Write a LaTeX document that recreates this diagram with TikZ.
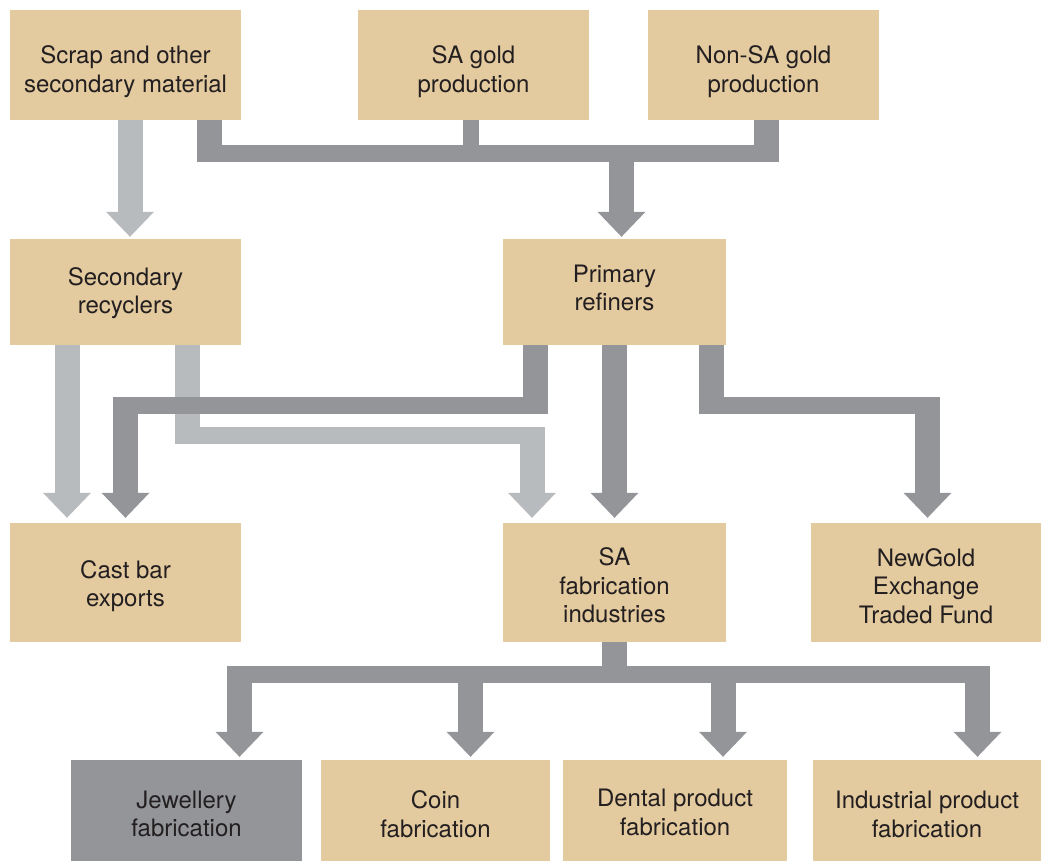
\documentclass[tikz,border=0pt]{standalone}
\usepackage{fontspec}
\setmainfont{TeX Gyre Heros}
\usepackage{tikz}
\usetikzlibrary{calc}
\definecolor{boxtan}{HTML}{E3CA9F}
\definecolor{flowdark}{HTML}{939598}
\definecolor{flowlight}{HTML}{B8BBBE}
\definecolor{ink}{HTML}{231F20}
\def\flowhead[#1](#2){\fill[#1] (#2) -- ++(-24,-25) -- ++(48,0) -- cycle;}
\tikzset{
	box/.style={fill=boxtan, text=ink, inner sep=0pt, align=center,
		minimum width=231pt, minimum height=110pt,
		text height=55pt, text depth=0pt,
		font=\fontsize{24}{28.5}\selectfont},
	dk/.style={draw=flowdark, line width=25pt},
	lt/.style={draw=flowlight, line width=25pt},
	across/.style={line width=17pt}
}

\begin{document}
\begin{tikzpicture}[x=1pt, y=-1pt]
			%%%%% START %%%%%
			\useasboundingbox (0,0) rectangle (1041,861);
			
			\node[box] (scrap) at (125.5,65) {Scrap and other\\secondary material};
			\node[box] (sagold) at (473.5,65) {SA gold\\production};
			\node[box] (nonsa) at (763.5,65) {Non-SA gold\\production};
			
			\node[box, minimum height=106pt, text height=43pt] (recyc) at (125.5,292) {Secondary\\recyclers};
			\node[box, minimum width=223pt, minimum height=106pt, text height=37pt] (refin) at (614.5,292) {Primary\\refiners};
			
			\node[box, minimum height=119pt, text height=48pt] (cast) at (125.5,582.5) {Cast bar\\exports};
			\node[box, minimum width=223pt, minimum height=119pt, text height=80pt] (safab) at (614.5,582.5) {SA\\fabrication\\industries};
			\node[box, minimum width=230pt, minimum height=119pt, text height=81pt] (etf) at (926,582.5) {NewGold\\Exchange\\Traded Fund};
			
			\node[box, fill=flowdark, text height=43pt] (jewel) at (186.5,815) {Jewellery\\fabrication};
			\node[box, minimum width=229pt, text height=44pt] (coin) at (435.5,815) {Coin\\fabrication};
			\node[box, minimum width=224pt, text height=40pt] (dental) at (675,815) {Dental product\\fabrication};
			\node[box, minimum width=228pt, text height=44pt] (indus) at (927,815) {Industrial product\\fabrication};
			
			% secondary (scrap) gold
			\draw[lt] ([xshift=4.5pt]scrap.south) -- ([xshift=4.5pt,yshift=27pt]recyc.north);
			\flowhead[flowlight]([xshift=4.5pt,yshift=2pt]recyc.north)
			
			\draw[lt] ([xshift=-58.5pt]recyc.south) -- ([xshift=-58.5pt,yshift=30pt]cast.north);
			\flowhead[flowlight]([xshift=-58.5pt,yshift=5pt]cast.north)
			
			\coordinate (rl) at (187.5,435);
			\coordinate (rr) at (532,435);
			\draw[lt] ([xshift=62pt]recyc.south) -- ([yshift=-8pt]rl);
			\draw[lt, across] ([xshift=-12.5pt]rl) -- ([xshift=12.5pt]rr);
			\draw[lt] ([yshift=8pt]rr) -- ([xshift=-82.5pt,yshift=30pt]safab.north);
			\flowhead[flowlight]([xshift=-82.5pt,yshift=5pt]safab.north)
			
			% mined gold into the refiners
			\coordinate (ml) at (209,153.5);
			\coordinate (mm) at (621.5,153.5);
			\coordinate (mr) at (766,153.5);
			\draw[dk] ([xshift=83.5pt]scrap.south) -- ([yshift=-8.5pt]ml);
			\draw[dk, line width=16pt] ([xshift=-2.5pt]sagold.south) -- ++(0,33);
			\draw[dk] ([xshift=2.5pt]nonsa.south) -- ([yshift=-8.5pt]mr);
			\draw[dk, across] ([xshift=-12pt]ml) -- ([xshift=13pt]mr);
			\draw[dk] (mm) -- ([xshift=7pt,yshift=27pt]refin.north);
			\flowhead[flowdark]([xshift=7pt,yshift=2pt]refin.north)
			
			% out of the refiners
			\coordinate (pl) at (125.5,405.5);
			\coordinate (pr) at (535.5,405.5);
			\draw[dk] ([xshift=-79pt]refin.south) -- ([yshift=-8.5pt]pr);
			\draw[dk, across] ([xshift=-12.5pt]pl) -- ([xshift=12.5pt]pr);
			\draw[dk] ([yshift=8.5pt]pl) -- ([yshift=30pt]cast.north);
			\flowhead[flowdark]([yshift=5pt]cast.north)
			
			\draw[dk] (refin.south) -- ([yshift=30pt]safab.north);
			\flowhead[flowdark]([yshift=5pt]safab.north)
			
			\coordinate (el) at (711,405.5);
			\coordinate (er) at (927.5,405.5);
			\draw[dk] ([xshift=96.5pt]refin.south) -- ([yshift=-8.5pt]el);
			\draw[dk, across] ([xshift=-12pt]el) -- ([xshift=12.5pt]er);
			\draw[dk] ([yshift=8.5pt]er) -- ([xshift=1.5pt,yshift=30pt]etf.north);
			\flowhead[flowdark]([xshift=1.5pt,yshift=5pt]etf.north)
			
			% fabrication split
			\coordinate (fl) at (239.5,674.5);
			\coordinate (fr) at (977.5,674.5);
			\draw[dk] (safab.south) -- ++(0,41);
			\draw[dk, across] ([xshift=-12.5pt]fl) -- ([xshift=12.5pt]fr);
			\draw[dk] ([xshift=53pt,yshift=94pt]jewel.north) -- ([xshift=53pt,yshift=27pt]jewel.north);
			\draw[dk] ([xshift=35pt,yshift=94pt]coin.north) -- ([xshift=35pt,yshift=27pt]coin.north);
			\draw[dk] ([xshift=48pt,yshift=94pt]dental.north) -- ([xshift=48pt,yshift=27pt]dental.north);
			\draw[dk] ([xshift=50.5pt,yshift=94pt]indus.north) -- ([xshift=50.5pt,yshift=27pt]indus.north);
			\flowhead[flowdark]([xshift=53pt,yshift=3pt]jewel.north)
			\flowhead[flowdark]([xshift=35pt,yshift=3pt]coin.north)
			\flowhead[flowdark]([xshift=48pt,yshift=3pt]dental.north)
			\flowhead[flowdark]([xshift=50.5pt,yshift=3pt]indus.north)
			
			%%%%% END %%%%%
\end{tikzpicture}
\end{document}
